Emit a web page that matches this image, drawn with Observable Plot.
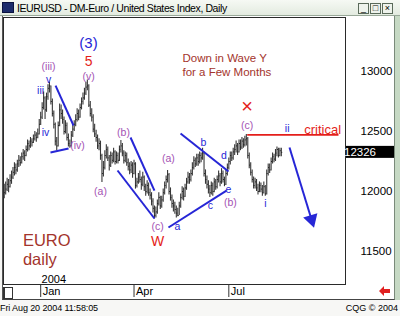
<!DOCTYPE html>
<html><head><meta charset="utf-8">
<script src="https://cdn.jsdelivr.net/npm/d3@7"></script>
<script src="https://cdn.jsdelivr.net/npm/@observablehq/plot@0.6"></script>
<style>
body{margin:0;background:#fff;}
#win{position:relative;width:400px;height:316px;overflow:hidden;background:#f7f7f5;font-family:"Liberation Sans",Arial,sans-serif;}
#titlebar{position:absolute;left:0;top:0;width:400px;height:16px;background:linear-gradient(#f6f9f4,#e3ebe0);border-bottom:1px solid #98a898;box-sizing:border-box;}
#icon{position:absolute;left:2px;top:2px;width:12px;height:11px;background:#1c2c6c;border:1px solid #0c1440;box-sizing:border-box;}
#ttext{position:absolute;left:17px;top:2px;font-size:10.5px;letter-spacing:-0.4px;color:#000;white-space:nowrap;line-height:12px;}
.btn{position:absolute;top:3px;width:11px;height:11px;border:1px solid #5a6a5a;background:#eef3ec;box-sizing:border-box;font-size:9px;line-height:9px;text-align:center;color:#000;}
#chartbox{position:absolute;left:2px;top:16px;width:393px;height:284px;background:#fff;border-left:1px solid #555;border-right:1px solid #7a8a7a;border-bottom:1px solid #444;box-sizing:border-box;}
#rstrip{position:absolute;left:395px;top:16px;width:5px;height:284px;background:#c6d9c4;}
#sbox{position:absolute;left:3px;top:287px;width:10px;height:12px;border:1px solid #333;border-left:2px solid #333;box-sizing:border-box;background:#fff;}
#foot1{position:absolute;left:0;top:303px;font-size:9px;letter-spacing:-0.1px;color:#000;white-space:nowrap;}
#foot2{position:absolute;right:2px;top:303px;font-size:9px;color:#000;white-space:nowrap;}
#rarrow{position:absolute;left:378px;top:285px;}
#plotwrap{position:absolute;left:0;top:0;width:400px;height:316px;z-index:5;}
#plotwrap svg{display:block;}
</style></head><body>
<div id="win">
  <div id="titlebar"><div id="icon"></div><div id="ttext">IEURUSD - DM-Euro / United States Index, Daily</div>
    <div class="btn" style="left:358px">_</div><div class="btn" style="left:370px">&#9633;</div><div class="btn" style="left:382px">&#215;</div>
  </div>
  <div id="chartbox"></div>
  <div id="rstrip"></div>
  <div id="sbox"></div>
  <svg id="rarrow" width="14" height="12"><polygon points="1,6 6,1 6,4 12,4 12,8 6,8 6,11" fill="#e02020"/></svg>
  <div id="foot1">Fri Aug 20 2004 11:58:05</div>
  <div id="foot2">CQG &#169; 2004</div>
  <div id="plotwrap"></div>
</div>
<script>
// ---------- data ----------
const startDate = "2003-11-26";
const holidays = ["2003-12-25", "2004-01-01"];
const closes = [
11990,12020,12060,12040,12090,12120,12160,12200,12180,12230,
12260,12240,12290,12320,12300,12350,12400,12380,12420,12410,
12440,12470,12450,12480,12560,12620,12700,12780,12680,12790,
12860,12880,12750,12650,12560,12420,12380,12550,12680,12650,
12600,12500,12550,12450,12400,12380,12470,12520,12560,12600,
12650,12620,12700,12750,12780,12820,12870,12880,12720,12650,
12620,12520,12480,12450,12380,12400,12300,12150,12200,12300,
12350,12280,12220,12300,12260,12330,12250,12300,12260,12350,
12380,12320,12260,12300,12240,12210,12180,12220,12150,12230,
12050,12080,12120,12100,12060,12120,12040,12000,12050,11990,
11970,11920,11860,11800,11830,11900,11950,11880,11930,11990,
12050,12100,12140,12000,11950,11900,11880,11850,11820,11800,
11880,11950,12000,11960,12030,12080,12120,12100,12150,12200,
12260,12230,12280,12250,12300,12280,12320,12150,12100,12060,
12020,11990,12050,12000,12080,12040,12100,12130,12080,12150,
12100,12060,12150,12200,12250,12300,12280,12330,12350,12380,
12330,12400,12370,12420,12390,12430,12440,12300,12220,12160,
12100,12050,12080,12030,12000,12050,12020,11990,12040,11980,
12150,12200,12180,12250,12290,12270,12320,12350,12300,12340,
12326];
const highs = [
12060,12080,12110,12100,12140,12170,12200,12240,12230,12260,
12300,12290,12320,12350,12340,12380,12430,12420,12450,12440,
12470,12500,12490,12520,12600,12660,12740,12830,12790,12820,
12890,12910,12880,12770,12670,12570,12450,12580,12730,12720,
12680,12620,12590,12570,12480,12430,12500,12560,12590,12640,
12690,12680,12730,12780,12820,12860,12910,12930,12890,12750,
12690,12640,12560,12510,12470,12440,12420,12310,12250,12340,
12390,12370,12300,12330,12320,12360,12340,12330,12320,12380,
12425,12400,12340,12330,12320,12270,12240,12250,12240,12260,
12240,12110,12150,12170,12120,12160,12130,12060,12090,12070,
12020,11990,11940,11880,11870,11930,11990,11960,11960,12020,
12080,12130,12175,12150,12030,11970,11930,11910,11880,11860,
11910,11980,12040,12030,12060,12110,12160,12150,12180,12240,
12290,12280,12310,12310,12330,12320,12360,12330,12180,12130,
12090,12050,12080,12070,12110,12100,12130,12170,12150,12190,
12170,12120,12180,12230,12280,12330,12330,12360,12390,12420,
12400,12430,12430,12450,12440,12460,12475,12450,12320,12240,
12180,12120,12110,12100,12060,12080,12070,12050,12080,12050,
12180,12230,12230,12280,12320,12310,12350,12370,12360,12360,
12360];
const lows = [
11940,11970,12000,11990,12030,12060,12100,12130,12140,12160,
12200,12210,12230,12260,12250,12290,12330,12340,12360,12370,
12400,12420,12410,12440,12470,12550,12600,12680,12600,12660,
12760,12820,12720,12620,12520,12380,12340,12370,12540,12600,
12560,12470,12480,12420,12370,12360,12370,12450,12500,12540,
12580,12590,12610,12680,12720,12760,12800,12840,12700,12620,
12580,12490,12450,12410,12350,12340,12260,12075,12120,12180,
12270,12250,12170,12200,12230,12240,12220,12230,12230,12250,
12320,12290,12230,12240,12210,12170,12140,12150,12110,12140,
12020,12030,12060,12070,12010,12040,12000,11960,11980,11960,
11930,11880,11820,11770,11780,11810,11880,11850,11860,11910,
11970,12020,12070,11970,11920,11860,11830,11810,11780,11790,
11800,11860,11930,11920,11950,12010,12060,12060,12080,12130,
12180,12200,12210,12210,12230,12240,12260,12120,12060,12020,
11980,11950,11970,11960,11990,12010,12020,12070,12040,12060,
12070,12040,12050,12130,12180,12220,12250,12260,12300,12320,
12300,12320,12340,12350,12360,12370,12380,12270,12190,12130,
12070,12020,12020,12000,11970,11990,11990,11960,11980,11960,
11970,12130,12150,12170,12230,12240,12250,12290,12280,12290,
12290];
const monthTicks = [["2004-01", "Jan"], ["2004-04", "Apr"], ["2004-07", "Jul"]];
const priceTicks = [11500, 12000, 12500, 13000];
const yearLabel = ["2004", 25.6, 11267];

// annotations: [text, bar index, price]
const purpleLabels = [["(iii)",30.4,13042],["(v)",57.8,12958],["(iv)",50.2,12383],["(a)",66.0,12000],
  ["(b)",81.8,12492],["(a)",112.6,12275],["(c)",105.1,11708],["(b)",155.1,11908],["(c)",166.6,12545]];
const blueLabels = [["v",30.4,12933],["iii",24.9,12842],["iv",28.3,12492],["a",118.8,11708],["b",136.6,12408],
  ["c",141.4,11883],["d",150.6,12300],["e",153.8,12017],["ii",194.0,12525],["i",179.1,11900]];
const bigBlue = [["(3)",57.8,13233]];
const redLabels = [["5",57.8,13083,14],["W",105.1,11583,14],["\u00d7",166.6,12705,20],["critical",218.3,12514,13]];
const noteLines = [["Down in Wave Y",122.2,13108],["for a Few Months",122.2,12992]];
const euroLines = [["EURO",12.8,11592],["daily",12.8,11433]];
// trend lines: [i1, p1, i2, p2]
const waveLines = [[35.2,12883,47.5,12550],[31.7,12325,44.1,12358],[86.6,12450,103.0,12008],
  [77.7,12175,103.0,11775],[120.9,12483,153.8,12167],[112.6,11700,152.4,12008]];
const criticalLine = [166.6,12472,229.2,12472];
const forecastArrow = [195.6,12367,210.7,11767];

// ---------- build ----------
const dates = [];
{
  let d = new Date(startDate + "T00:00:00Z");
  while (dates.length < closes.length) {
    const s = d.toISOString().slice(0,10);
    const wd = d.getUTCDay();
    if (wd !== 0 && wd !== 6 && !holidays.includes(s)) dates.push(s);
    d = new Date(d.getTime() + 86400000);
  }
}
const bars = closes.map((c, i) => ({i, date: dates[i], close: c, high: highs[i], low: lows[i]}));
const tickIdx = monthTicks.map(([m]) => dates.findIndex(s => s.startsWith(m)));
const tickLab = new Map(tickIdx.map((t, k) => [t, monthTicks[k][1]]));
const lastClose = closes[closes.length - 1];

const BLUE = "#2626d6", PURPLE = "#a452b4", RED = "#e41e1a", DRED = "#a3342c";
const F = "'Liberation Sans', Arial, sans-serif";
const txt = (arr, o) => Plot.text(arr, {x: d => d[1], y: d => d[2], text: d => d[0], fontFamily: F, ...o});

const plot = Plot.plot({
  width: 400, height: 316,
  marginTop: 17, marginRight: 55, marginBottom: 32, marginLeft: 3,
  style: {background: "transparent", fontFamily: F, color: "#000", overflow: "visible"},
  x: {type: "linear", domain: [-0.5, 234]},
  y: {domain: [11225, 13450]},
  marks: [
    Plot.frame({fill: "white", stroke: "#2a2a2a"}),
    Plot.axisY({ticks: priceTicks, anchor: "right", tickSize: 0, tickPadding: 15, tickFormat: d => String(d), fontSize: 11.5, label: null}),
    Plot.axisX({ticks: tickIdx, anchor: "bottom", tickSize: 13, stroke: "#333", tickFormat: () => "", label: null}),
    Plot.axisX({ticks: tickIdx, anchor: "bottom", tickSize: 0, tickPadding: 3, tickFormat: d => tickLab.get(d), textAnchor: "start", dx: 2, fontSize: 11, label: null}),
    Plot.ruleX(bars, {x: "i", y1: "low", y2: "high", stroke: "#383838", strokeWidth: 1.1}),
    Plot.link(bars, {x1: "i", x2: d => d.i + 0.6, y1: "close", y2: "close", stroke: "#1a1a1a", strokeWidth: 1}),
    Plot.link(waveLines, {x1: d => d[0], y1: d => d[1], x2: d => d[2], y2: d => d[3], stroke: BLUE, strokeWidth: 2}),
    Plot.link([criticalLine], {x1: d => d[0], y1: d => d[1], x2: d => d[2], y2: d => d[3], stroke: RED, strokeWidth: 1.6}),
    Plot.link([forecastArrow], {x1: d => d[0], y1: d => d[1], x2: d => d[2], y2: d => d[3], stroke: BLUE, strokeWidth: 2}),
    Plot.dot([forecastArrow], {x: d => d[2], y: d => d[3], symbol: "triangle", r: 5.5, rotate: 163, fill: BLUE, stroke: "none"}),
    txt(purpleLabels, {fill: PURPLE, fontSize: 10.5}),
    txt(blueLabels, {fill: BLUE, fontSize: 10.5}),
    txt(bigBlue, {fill: BLUE, fontSize: 15}),
    Plot.text(redLabels, {x: d => d[1], y: d => d[2], text: d => d[0], fill: RED, fontSize: d => d[3], fontFamily: F}),
    txt(noteLines, {fill: DRED, fontSize: 11.5, textAnchor: "start"}),
    txt(euroLines, {fill: DRED, fontSize: 16.5, textAnchor: "start"}),
    txt([yearLabel], {fill: "#000", fontSize: 11, textAnchor: "start"})
  ]
});
// current price box on the right axis
{
  const y = plot.scale("y").apply(lastClose);
  const x0 = plot.scale("x").range[1];
  const g = d3.select(plot).append("g");
  g.append("rect").attr("x", x0 + 1).attr("y", y - 6).attr("width", 48).attr("height", 12).attr("fill", "#000");
  g.append("text").attr("x", x0 + 15).attr("y", y).attr("dy", "0.36em").attr("fill", "#fff")
    .attr("font-size", 11.5).attr("font-family", F).text(String(lastClose));
}
document.getElementById("plotwrap").appendChild(plot);
</script>
</body></html>
